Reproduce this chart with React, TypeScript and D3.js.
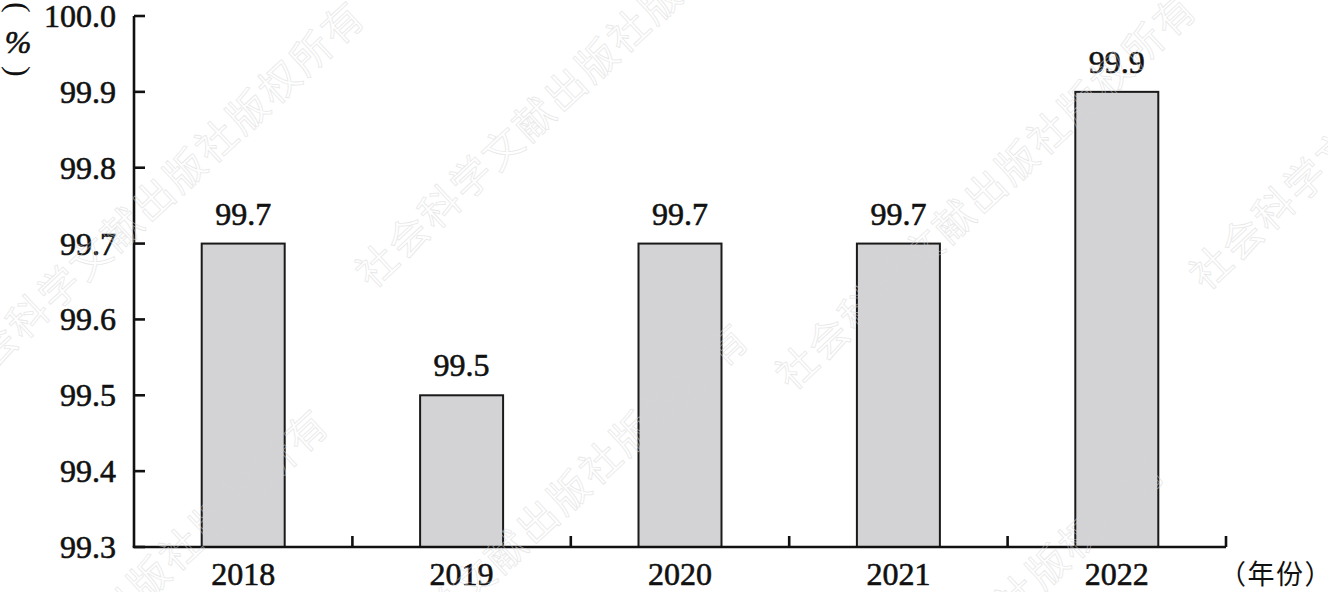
import React from "react";
import * as d3 from "d3";

const categories = ["2018", "2019", "2020", "2021", "2022"];
const values = [99.7, 99.5, 99.7, 99.7, 99.9];
const yTicks = [99.3, 99.4, 99.5, 99.6, 99.7, 99.8, 99.9, 100.0];
const watermarkText = "社会科学文献出版社版权所有";
const watermarkStarts: [number, number][] = [
  [-40, 400], [372, 290], [792, 392], [1206, 292],
  [-76, 808], [344, 722], [760, 855],
];

const W = 1328, H = 592;
const left = 134, right = 1226, top = 16, bottom = 547;
const SERIF = "Liberation Serif";
const CJK = "Noto Sans CJK SC";
const ink = { fill: "#111", stroke: "#111", strokeWidth: 0.6 };

export default function App() {
  const x = d3.scaleBand<string>().domain(categories).range([left, right]).paddingInner(0.62).paddingOuter(0.31);
  const y = d3.scaleLinear().domain([99.3, 100]).range([bottom, top]);
  const step = x.step();
  const boundaries = categories.map((_, i) => left + step * (i + 1));

  return (
    <svg width={W} height={H} style={{ position: "absolute", left: 0, top: 0, background: "#fff" }}>
      {/* bars */}
      {categories.map((c, i) => (
        <rect key={c} x={x(c)!} y={y(values[i])} width={x.bandwidth()} height={bottom - y(values[i])}
          fill="#d3d3d5" stroke="#1a1a1a" strokeWidth={2} />
      ))}
      {/* value labels */}
      {categories.map((c, i) => (
        <text key={"v" + c} x={x(c)! + x.bandwidth() / 2} y={y(values[i]) - 19} textAnchor="middle"
          style={{ fontFamily: SERIF }} fontSize={32} {...ink}>{values[i].toFixed(1)}</text>
      ))}
      {/* y axis */}
      <line x1={left} x2={left} y1={top} y2={bottom} stroke="#111" strokeWidth={2.6} />
      {yTicks.map((t) => (
        <g key={t}>
          <line x1={left} x2={left + 11} y1={y(t)} y2={y(t)} stroke="#111" strokeWidth={2.6} />
          <text x={116} y={y(t) + 11} textAnchor="end" style={{ fontFamily: SERIF }} fontSize={32} {...ink}>{t.toFixed(1)}</text>
        </g>
      ))}
      {/* x axis */}
      <line x1={left - 1.3} x2={right} y1={bottom} y2={bottom} stroke="#111" strokeWidth={2.6} />
      {boundaries.map((b, i) => (
        <line key={"b" + i} x1={b} x2={b} y1={bottom} y2={bottom - 11} stroke="#111" strokeWidth={2.6} />
      ))}
      {categories.map((c) => (
        <text key={"x" + c} x={x(c)! + x.bandwidth() / 2} y={585} textAnchor="middle"
          style={{ fontFamily: SERIF }} fontSize={32} {...ink}>{c}</text>
      ))}
      <text x={1219} y={584} style={{ fontFamily: CJK }} fontSize={27} letterSpacing={1.5} fill="#111">（年份）</text>
      {/* y unit */}
      <text transform="translate(8,2) rotate(90)" style={{ fontFamily: SERIF }} fontSize={32} fill="#111">(</text>
      <text x={18} y={53} textAnchor="middle" style={{ fontFamily: SERIF }} fontStyle="italic" fontSize={32} {...ink}>%</text>
      <text transform="translate(8,66) rotate(90)" style={{ fontFamily: SERIF }} fontSize={32} fill="#111">)</text>
      {/* watermark */}
      {watermarkStarts.map(([wx, wy], i) => (
        <text key={"w" + i} transform={`translate(${wx},${wy}) rotate(-43)`}
          style={{ fontFamily: CJK }} fontSize={40} fill="none"
          stroke="#d6d6d6" strokeWidth={0.8} opacity={0.55} letterSpacing={3}>{watermarkText}</text>
      ))}
    </svg>
  );
}
